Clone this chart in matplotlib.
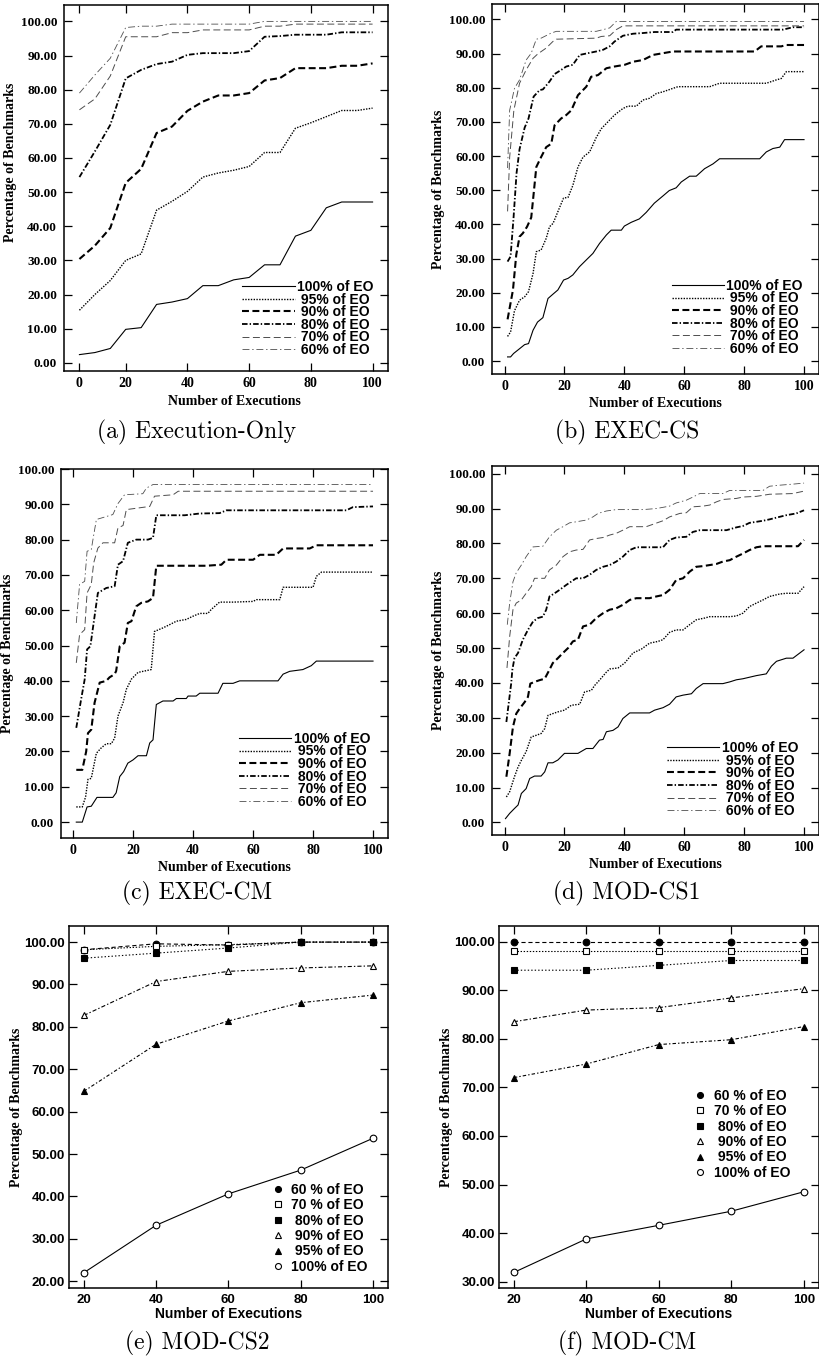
import numpy as np
import matplotlib
matplotlib.use("Agg")
import matplotlib.pyplot as plt
from matplotlib.lines import Line2D

plt.rcParams["lines.scale_dashes"] = False
W, H = 820, 1363
SERIF = "Liberation Serif"; SANS = "Liberation Sans"

LINE_LABELS = ["100% of EO", "95% of EO", "90% of EO", "80% of EO", "70% of EO", "60% of EO"]
MARK_LABELS = ["60 % of EO", "70 % of EO", "80% of EO", "90% of EO", "95% of EO", "100% of EO"]
CAPTIONS = ["(a) Execution-Only", "(b) EXEC-CS", "(c) EXEC-CM", "(d) MOD-CS1", "(e) MOD-CS2", "(f) MOD-CM"]

# ---- (a) Execution-Only ----
A_X = [5, 10, 15, 20, 25, 30, 35, 40, 45, 50, 55, 60, 65, 70, 75, 80, 85, 90, 95, 100]
A100 = [2.4, 3.0, 4.2, 9.8, 10.3, 17.1, 17.8, 18.8, 22.6, 22.6, 24.3, 25.0, 28.7, 28.7, 37.1, 38.8, 45.4, 47.1, 47.1, 47.1]
A95 = [15.4, 20.0, 24.1, 30.0, 31.9, 44.7, 47.3, 50.2, 54.4, 55.6, 56.4, 57.5, 61.6, 61.6, 68.7, 70.3, 72.1, 73.9, 73.9, 74.6]
A90 = [30.4, 34.3, 39.5, 52.7, 56.8, 67.3, 69.2, 73.8, 76.5, 78.3, 78.3, 79.0, 82.7, 83.4, 86.3, 86.3, 86.3, 87.0, 87.0, 87.7]
A80 = [54.4, 61.9, 69.7, 83.3, 85.8, 87.5, 88.2, 90.2, 90.7, 90.7, 90.7, 91.3, 95.5, 95.7, 96.1, 96.1, 96.1, 96.8, 96.8, 96.8]
A70 = [74.1, 77.3, 84.0, 95.5, 95.5, 95.5, 96.7, 96.7, 97.5, 97.5, 97.5, 97.5, 98.6, 98.6, 99.2, 99.2, 99.2, 99.2, 99.2, 99.2]
A60 = [79.0, 84.3, 89.2, 98.2, 98.6, 98.6, 99.2, 99.2, 99.2, 99.2, 99.2, 99.2, 100, 100, 100, 100, 100, 100, 100, 100]

# ---- (b) EXEC-CS ----
B100_X = [1, 2, 3, 5, 6.7, 8, 9.5, 11, 12.8, 14.5, 16.2, 17.8, 19.7, 21.2, 22.8, 25, 27.3, 29.5, 31.7, 34, 35.6, 39, 40, 42.3, 45, 47.3, 50, 53, 55, 57.3, 59, 61.8, 64, 66.8, 69.6, 71.8, 85.2, 87.4, 89.6, 91.9, 93.5, 100]
B100_Y = [1.2, 1.2, 2.2, 3.6, 4.8, 5.1, 9.0, 11.4, 12.7, 18.3, 19.6, 20.8, 23.7, 24.2, 25.2, 27.6, 29.6, 31.5, 34.4, 36.9, 38.3, 38.3, 39.5, 40.6, 41.6, 43.5, 46.2, 48.4, 49.9, 50.7, 52.4, 54.1, 54.1, 56.3, 57.7, 59.2, 59.2, 61.2, 62.2, 62.6, 64.8, 64.8]
B95_X = [1, 2, 3.3, 5, 6.7, 8, 9.5, 10.6, 12.2, 13.9, 15, 16.2, 18.4, 19.7, 21.2, 22.8, 24.5, 26.2, 28.4, 30.6, 32.3, 34.5, 36.7, 39.5, 41.2, 44, 46.2, 48.4, 50.7, 52.9, 56.2, 57.9, 68.5, 71.8, 87.4, 90.8, 92.4, 94.1, 100]
B95_Y = [7.2, 8.5, 14.7, 17.8, 18.8, 20.3, 25.6, 32.0, 32.5, 35.9, 39.3, 40.3, 45.0, 47.7, 47.9, 51.4, 56.8, 59.7, 61.2, 65.4, 68.0, 70.0, 72.0, 73.9, 74.6, 74.6, 76.4, 76.9, 78.3, 78.8, 79.8, 80.3, 80.3, 81.3, 81.3, 82.3, 82.7, 84.7, 84.7]
B90_X = [1, 2.8, 3.9, 5, 6.1, 7.5, 8.9, 9.7, 10.6, 12.2, 13.9, 15.6, 16.7, 18.9, 20.6, 22.3, 24.5, 27.3, 28.9, 31.2, 34, 36.7, 40.1, 42.9, 46.2, 49.6, 52.9, 56.2, 83.5, 85.7, 92.4, 94.1, 100]
B90_Y = [12.2, 20.8, 31.1, 36.4, 37.4, 39.3, 42.0, 48.9, 56.8, 59.7, 62.6, 63.6, 69.0, 71.0, 72.0, 73.4, 77.8, 80.3, 83.2, 83.7, 85.7, 86.2, 86.7, 87.6, 88.1, 89.6, 90.1, 90.6, 90.6, 92.1, 92.1, 92.5, 92.5]
B80_X = [1, 2, 3, 4, 5, 6.7, 8, 9.7, 11.7, 12.8, 15, 16.7, 18.9, 20.6, 22.8, 25.1, 27.8, 30.6, 32.9, 35.1, 36.7, 39.5, 42.9, 46.2, 50.1, 56.2, 57.3, 93, 96.3, 100]
B80_Y = [29.1, 30.6, 42.0, 55.0, 62.0, 68.3, 71.0, 77.4, 79.3, 79.5, 81.8, 84.0, 85.2, 86.2, 86.7, 89.6, 90.1, 90.6, 91.1, 92.1, 93.5, 95.2, 95.8, 96.0, 96.3, 96.3, 97.0, 97.0, 97.7, 97.7]
B70_X = [1, 1.7, 3.1, 5, 7.2, 9.5, 11.1, 13.9, 16.1, 17.3, 30.6, 32.3, 35.1, 37.3, 39.5, 100]
B70_Y = [43.8, 59.7, 73.4, 81.3, 85.2, 88.6, 89.9, 91.6, 93.5, 94.2, 94.5, 95.0, 95.2, 97.0, 98.1, 98.1]
B60_X = [1, 1.7, 3.3, 5, 7.2, 8.9, 10.6, 12.2, 15.6, 17.3, 30.6, 32.9, 35.1, 37.3, 100]
B60_Y = [56.5, 73.4, 79.8, 82.3, 88.1, 90.1, 94.2, 94.5, 96.0, 96.5, 96.5, 97.0, 97.5, 99.4, 99.4]

# ---- (c) EXEC-CM ----
C100_X = [1, 3, 4.6, 6, 7.9, 13.2, 14.3, 15.5, 16.8, 18.2, 19.9, 21.6, 24.4, 25.5, 26.6, 27.7, 29.9, 33.3, 34.4, 37.7, 38.3, 41, 42.2, 48.3, 49.9, 53.3, 55.5, 68.3, 70, 72.2, 76.6, 79.4, 81.1, 100]
C100_Y = [0, 0, 4.3, 4.5, 7.0, 7.0, 8.3, 12.9, 14.3, 16.7, 17.6, 18.8, 18.8, 22.4, 23.3, 33.3, 34.3, 34.3, 35.0, 35.0, 35.7, 35.7, 36.5, 36.5, 39.3, 39.3, 40.0, 40.0, 41.9, 42.7, 43.2, 44.3, 45.6, 45.6]
C95_X = [1, 3, 4.1, 4.9, 6, 7.7, 9.3, 11, 12.7, 13.8, 14.9, 16.6, 17.7, 19.4, 21.6, 24.4, 26, 27.1, 29.9, 32.1, 34.4, 37.7, 39.9, 42.2, 44.9, 46, 48.8, 53.3, 60, 61.1, 68.9, 70, 80, 81.1, 82.8, 100]
C95_Y = [4.3, 4.3, 7.1, 12.1, 12.4, 19.5, 21.0, 22.2, 22.2, 23.8, 30.0, 33.8, 37.6, 40.5, 42.4, 42.9, 43.2, 54.0, 55.0, 55.9, 56.9, 57.4, 58.3, 59.1, 59.1, 60.2, 62.3, 62.3, 62.5, 63.0, 63.0, 66.5, 66.5, 69.6, 70.8, 70.8]
C90_X = [1, 3, 4.3, 4.9, 6, 7.1, 8.8, 11, 12.1, 13.8, 14.3, 15.5, 17.1, 18.2, 19.4, 21, 22.7, 24.9, 26.6, 27.7, 44.4, 49.4, 51.1, 60, 62.2, 67.7, 70, 78.9, 81.1, 100]
C90_Y = [14.8, 14.8, 20.0, 25.2, 26.2, 33.8, 39.5, 40.0, 41.0, 41.9, 42.8, 49.8, 50.8, 56.4, 56.9, 61.1, 62.1, 62.5, 63.5, 72.6, 72.6, 72.9, 74.3, 74.3, 75.7, 75.7, 77.5, 77.5, 78.4, 78.4]
C80_X = [1, 2.7, 3.8, 4.6, 5.7, 7.1, 8.2, 11, 13.8, 14.9, 16.6, 18.2, 21, 24.9, 26.6, 27.7, 37.2, 42.2, 48.8, 51.1, 91.1, 93.3, 100]
C80_Y = [26.7, 35.2, 40.4, 48.9, 49.8, 58.3, 64.9, 66.3, 66.8, 72.9, 73.9, 79.1, 80.0, 80.0, 80.5, 86.9, 86.9, 87.4, 87.5, 88.3, 88.3, 89.2, 89.4]
C70_X = [1, 2.1, 3.8, 4.6, 6, 6.8, 8.2, 9.9, 13.8, 14.9, 16.6, 17.7, 25.5, 27.1, 33.3, 35, 100]
C70_Y = [45.1, 53.1, 54.5, 64.9, 67.3, 73.4, 77.6, 79.1, 79.1, 83.3, 84.0, 88.5, 89.4, 92.3, 92.7, 93.7, 93.7]
C60_X = [1, 2.1, 3.8, 4.6, 6, 7.7, 9.3, 13.2, 14.9, 17.1, 23.2, 24.4, 26.6, 100]
C60_Y = [56.4, 67.3, 68.2, 76.7, 77.2, 85.7, 86.1, 87.1, 90.2, 92.7, 93.0, 94.6, 95.6, 95.6]

# ---- (d) MOD-CS1 ----
D100_X = [0.3, 1.7, 3.3, 4.5, 5.6, 7.2, 8.4, 10, 12.2, 13.4, 14.5, 16.1, 17.8, 20, 24.5, 27.3, 29.5, 31.7, 32.9, 34, 36.2, 37.9, 39.5, 41.8, 48.4, 50.1, 52.9, 55.1, 57.3, 59.6, 62.4, 64, 66.3, 72.9, 75.2, 77.4, 79.6, 84.1, 87.4, 89.1, 90.8, 94.1, 96.3, 100]
D100_Y = [1.1, 2.6, 4.0, 5.0, 8.3, 9.7, 12.6, 13.3, 13.3, 14.5, 17.1, 17.1, 17.9, 19.8, 19.8, 21.2, 21.2, 23.6, 23.8, 26.0, 26.4, 27.4, 29.8, 31.4, 31.4, 32.2, 32.9, 33.9, 36.0, 36.5, 36.9, 38.4, 39.8, 39.8, 40.3, 40.9, 41.2, 42.1, 42.6, 44.8, 46.2, 47.1, 47.1, 49.5]
D95_X = [0.6, 1.7, 3.3, 4.5, 5.6, 7.2, 8.9, 10.6, 12.2, 13.4, 14.5, 16.1, 17.8, 20, 22.3, 25.1, 26.7, 29, 30.1, 31.7, 34, 35.1, 37.9, 40.1, 42.9, 45.7, 48.4, 51.2, 52.9, 55.1, 57.3, 59.6, 61.8, 64, 66.8, 68.5, 75.2, 77.4, 79.6, 81.8, 84.1, 86.3, 88.5, 91.9, 94.1, 98, 100]
D95_Y = [7.3, 8.8, 13.1, 15.9, 17.8, 20.3, 24.5, 25.0, 25.5, 26.9, 30.7, 31.2, 31.7, 32.2, 33.6, 33.9, 37.4, 37.9, 39.3, 40.8, 43.1, 44.0, 44.3, 45.7, 48.6, 49.7, 51.4, 51.9, 52.4, 54.5, 55.2, 55.2, 56.7, 58.1, 58.6, 59.0, 59.0, 59.2, 60.0, 61.9, 62.9, 63.8, 64.8, 65.5, 65.7, 65.7, 67.6]
D90_X = [0.6, 1.7, 2.8, 3.9, 5, 6.7, 7.8, 8.6, 10, 11.7, 13.4, 15, 16.1, 17.8, 19.5, 21.2, 22.8, 24.5, 26.2, 28.4, 30.6, 32.9, 35.1, 37.3, 39.5, 41.8, 44, 48.4, 50.7, 52.9, 55.1, 57.3, 59.6, 61.8, 64, 66.3, 68.5, 70.7, 72.9, 75.2, 77.4, 79.6, 81.8, 84.1, 86.3, 98, 100]
D90_Y = [13.1, 19.8, 27.4, 31.2, 32.6, 34.5, 36.0, 39.8, 40.3, 40.8, 41.2, 43.8, 45.7, 47.1, 48.6, 50.0, 51.9, 52.4, 56.2, 56.7, 58.6, 60.0, 61.0, 61.4, 62.4, 63.8, 64.3, 64.3, 64.8, 65.2, 66.7, 69.5, 70.0, 71.9, 73.3, 73.5, 73.8, 74.1, 74.8, 75.2, 76.2, 77.1, 78.1, 78.9, 79.2, 79.2, 81.0]
D80_X = [0.6, 2.2, 2.6, 3.3, 4.5, 6.1, 7.8, 9.5, 11.1, 12.8, 13.9, 15, 16.7, 18.4, 20.6, 23.9, 26.2, 28.4, 30.6, 32.9, 35.1, 37.3, 39.5, 41.8, 44, 52.9, 55.1, 57.3, 60.7, 62.9, 65.2, 74.1, 77.4, 79.6, 81.8, 84.1, 86.3, 88.5, 90.8, 94.1, 97.4, 100]
D80_Y = [28.8, 39.8, 43.8, 47.1, 48.6, 52.4, 55.2, 57.6, 58.6, 59.0, 61.0, 64.8, 65.7, 66.7, 68.1, 70.0, 70.0, 71.0, 72.4, 73.3, 73.8, 74.8, 76.2, 78.1, 78.9, 78.9, 81.0, 81.7, 81.9, 83.3, 83.8, 83.8, 84.6, 85.0, 85.9, 86.2, 86.5, 86.9, 87.4, 88.1, 88.6, 89.5]
D70_X = [0.8, 1.7, 2.8, 3.9, 5.6, 7.2, 8.9, 10, 13.4, 15, 17.3, 19.5, 21.7, 23.9, 26.2, 28.4, 30.6, 32.9, 35.1, 37.3, 39.5, 41.8, 47.3, 49.6, 52.9, 55.1, 58.5, 60.7, 62.9, 66.3, 68.5, 70.7, 72.9, 77.4, 79.6, 84.1, 88.5, 96.3, 100]
D70_Y = [44.3, 53.3, 61.0, 62.9, 63.8, 65.7, 67.6, 70.0, 70.0, 72.4, 73.8, 76.2, 77.6, 78.1, 78.3, 81.0, 81.4, 81.7, 82.4, 82.9, 83.8, 84.8, 84.8, 85.5, 86.5, 87.6, 88.6, 88.8, 90.5, 90.7, 91.0, 91.9, 92.6, 92.9, 93.3, 93.5, 94.1, 94.3, 95.0]
D60_X = [0.9, 1.7, 2.8, 3.9, 5.6, 7.2, 9.5, 12.8, 15, 17.3, 19.5, 21.7, 23.9, 27.3, 29.5, 31.2, 34, 37.3, 46.2, 50.7, 55.1, 57.3, 60.7, 62.9, 65.2, 72.9, 75.2, 86.3, 88.5, 91.9, 96.3, 100]
D60_Y = [56.7, 62.9, 69.0, 71.6, 73.8, 76.2, 79.0, 79.2, 81.9, 83.8, 84.8, 85.9, 86.2, 86.7, 87.6, 88.6, 89.3, 89.7, 89.7, 90.0, 90.7, 91.6, 92.4, 93.3, 94.3, 94.3, 95.2, 95.2, 96.4, 96.7, 97.0, 97.3]

# ---- (e) MOD-CS2 / (f) MOD-CM : order 60,70,80,90,95,100 ----
M_X = [20, 40, 60, 80, 100]
E60 = [98.2, 99.6, 99.3, 100, 100]
E70 = [98.2, 99.0, 99.4, 100, 100]
E80 = [96.2, 97.4, 98.6, 100, 100]
E90 = [82.7, 90.7, 93.1, 93.9, 94.4]
E95 = [64.8, 75.9, 81.4, 85.7, 87.5]
E100 = [22.0, 33.2, 40.6, 46.2, 53.7]
F60 = [100, 100, 100, 100, 100]
F70 = [98.1, 98.1, 98.1, 98.1, 98.1]
F80 = [94.1, 94.1, 95.1, 96.1, 96.1]
F90 = [83.5, 85.9, 86.4, 88.4, 90.3]
F95 = [72.0, 74.8, 78.8, 79.8, 82.5]
F100 = [31.9, 38.8, 41.6, 44.5, 48.5]

LINE_STYLES = [
    dict(ls="-", lw=0.8, color="k"),
    dict(ls=(0, (1, 1)), lw=1.0, color="k"),
    dict(ls=(0, (5, 2.5)), lw=1.5, color="k"),
    dict(ls=(0, (4, 1.5, 1, 1.5)), lw=1.3, color="k"),
    dict(ls=(0, (5, 2.5)), lw=0.7, color="0.3"),
    dict(ls=(0, (5, 2, 1, 2)), lw=0.6, color="0.3"),
]
MARK_STYLES = [
    dict(marker="o", mfc="k", ls=(0, (3, 2)), lw=0.8),
    dict(marker="s", mfc="w", ls=(0, (1, 1.2)), lw=0.8),
    dict(marker="s", mfc="k", ls=(0, (1, 1.5)), lw=0.8),
    dict(marker="^", mfc="w", ls=(0, (3, 1.5, 1, 1.5)), lw=0.8),
    dict(marker="^", mfc="k", ls=(0, (2.5, 1.5, 1, 1.5)), lw=0.8),
    dict(marker="o", mfc="w", ls="-", lw=0.8),
]

fig = plt.figure(figsize=(W / 100, H / 100), dpi=100)


def box(l, t, r, b):
    return fig.add_axes([l / W, 1 - b / H, (r - l) / W, (b - t) / H])


def frame(ax):
    for s in ax.spines.values():
        s.set_linewidth(1.1)
    ax.tick_params(direction="in", top=True, right=True, length=6, width=0.9)


def line_panel(ax, series, xlim, ylim, xticks, xticklabels, anchor, ylab_y=0.5):
    handles = []
    for (xs, ys), st in zip(series, LINE_STYLES):
        h, = ax.plot(xs, ys, **st)
        handles.append(h)
    ax.set_xlim(*xlim); ax.set_ylim(*ylim)
    frame(ax)
    ax.tick_params(axis="y", pad=5)
    ax.tick_params(axis="x", pad=4)
    ax.set_xticks(xticks, xticklabels, fontfamily=SERIF, fontweight="bold", fontsize=10)
    yt = np.arange(0, 101, 10)
    ax.set_yticks(yt, [f"{v:.2f}" for v in yt], fontfamily=SERIF, fontweight="bold", fontsize=9.5)
    ax.set_xlabel("Number of Executions", fontfamily=SERIF, fontweight="bold", fontsize=10, labelpad=3)
    ax.set_ylabel("Percentage of Benchmarks", fontfamily=SERIF, fontweight="bold", fontsize=10)
    ax.yaxis.set_label_coords(-0.145, ylab_y)
    ax.legend(handles, [s.rjust(10) for s in LINE_LABELS], loc="lower right", bbox_to_anchor=anchor,
              frameon=False, borderpad=0, borderaxespad=0, handlelength=3.8, handletextpad=0.15,
              labelspacing=-0.1, prop=dict(family=SANS, weight="bold", size=10))


def mark_panel(ax, series, ylim, yticks, loc, anchor):
    handles = []
    for ys, st in zip(series, MARK_STYLES):
        ax.plot(M_X, ys, color="k", mec="k", ms=4.8, mew=0.8, **st)
        handles.append(Line2D([], [], ls="none", marker=st["marker"], mfc=st["mfc"], mec="k", ms=4.3, mew=0.8))
    ax.set_xlim(15.9, 104.2); ax.set_ylim(*ylim)
    frame(ax)
    ax.tick_params(axis="y", pad=3)
    ax.tick_params(axis="x", pad=4)
    tf = dict(fontfamily=SANS, fontweight="bold", fontsize=9.5)
    ax.set_xticks(M_X, [str(v) for v in M_X], **tf)
    ax.set_yticks(yticks, [f"{v:.2f}" for v in yticks], **tf)
    ax.set_xlabel("Number of Executions", fontfamily=SANS, fontweight="bold", fontsize=10, labelpad=1)
    ax.set_ylabel("Percentage of Benchmarks", fontfamily=SERIF, fontweight="bold", fontsize=10)
    ax.yaxis.set_label_coords(-0.145, 0.5)
    ax.legend(handles, [s.rjust(10) for s in MARK_LABELS], loc=loc, bbox_to_anchor=anchor,
              frameon=False, borderpad=0, borderaxespad=0, handlelength=1.0, handletextpad=0.5,
              labelspacing=0.1, prop=dict(family=SANS, weight="bold", size=10))


XT = [0, 20, 40, 60, 80, 100]
XTL = [str(v) for v in XT]

ax = box(64, 5, 388, 371)
line_panel(ax, [(A_X, A100), (A_X, A95), (A_X, A90), (A_X, A80), (A_X, A70), (A_X, A60)],
           (0, 105), (-2.4, 104.8), [5, 20, 40, 60, 80, 100], XTL, (0.954, 0.038), ylab_y=0.571)
ax.xaxis.set_label_coords(0.525, -0.065)

ax = box(492, 4, 819, 374)
line_panel(ax, [(B100_X, B100_Y), (B95_X, B95_Y), (B90_X, B90_Y), (B80_X, B80_Y), (B70_X, B70_Y), (B60_X, B60_Y)],
           (-4.2, 105), (-3.8, 104.5), XT, XTL, (0.951, 0.049))

ax = box(61, 469, 388, 838)
line_panel(ax, [(C100_X, C100_Y), (C95_X, C95_Y), (C90_X, C90_Y), (C80_X, C80_Y), (C70_X, C70_Y), (C60_X, C60_Y)],
           (-4.1, 105), (-4.5, 100), XT, XTL, (0.945, 0.079))

ax = box(492, 466, 819, 835)
line_panel(ax, [(D100_X, D100_Y), (D95_X, D95_Y), (D90_X, D90_Y), (D80_X, D80_Y), (D70_X, D70_Y), (D60_X, D60_Y)],
           (-4.2, 105), (-3.6, 102.2), XT, XTL, (0.936, 0.046))

ax = box(69, 926, 388, 1288)
mark_panel(ax, [E60, E70, E80, E90, E95, E100], (18.4, 103.8), list(range(20, 101, 10)),
           "lower right", (0.937, 0.039))

ax = box(499, 926, 819, 1288)
mark_panel(ax, [F60, F70, F80, F90, F95, F100], (28.7, 103.2), list(range(30, 101, 10)),
           "upper right", (0.91, 0.55))

CAP_POS = [(197, 438), (627, 438), (197, 899), (627, 899), (197, 1349), (627, 1349)]
for (cx, cy), cap in zip(CAP_POS, CAPTIONS):
    fig.text(cx / W, 1 - cy / H, cap, ha="center", va="baseline", fontfamily="cmr10", fontsize=17)

fig.savefig("out.png", dpi=100)
